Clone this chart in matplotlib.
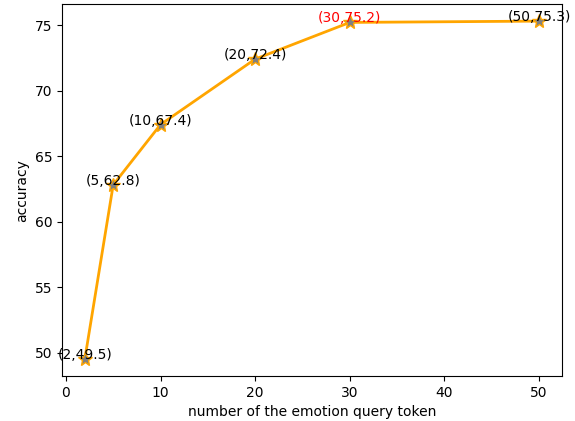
import matplotlib
matplotlib.use('Agg')
import matplotlib.pyplot as plt

# number of query tokens vs accuracy
tokens = [2, 5, 10, 20, 30, 50]
accuracy = [49.5, 62.8, 67.4, 72.4, 75.2, 75.3]
best_idx = 4


def main():
    fig, ax = plt.subplots(figsize=(5.75, 4.21), dpi=100)
    fig.subplots_adjust(left=0.108, right=0.977, top=0.990, bottom=0.107)

    ax.plot(tokens, accuracy, color='orange', linewidth=2, marker='*',
            markersize=10, markerfacecolor='gray', markeredgecolor='orange')

    for i, (x, y) in enumerate(zip(tokens, accuracy)):
        color = 'red' if i == best_idx else 'black'
        ax.text(x, y, '({},{})'.format(x, y), ha='center', va='baseline',
                fontsize=10, color=color)

    ax.set_xlabel('number of the emotion query token')
    ax.set_ylabel('accuracy')

    fig.savefig('out.png')


if __name__ == '__main__':
    main()
